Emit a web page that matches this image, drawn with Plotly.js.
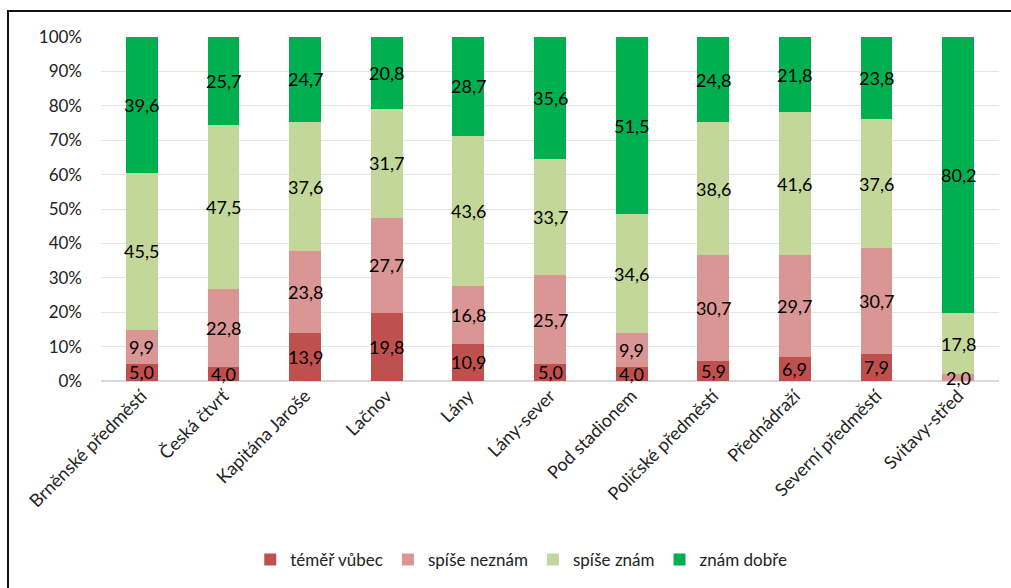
<!DOCTYPE html>
<html>
<head>
<meta charset="utf-8">
<script src="https://cdn.plot.ly/plotly-3.0.1.min.js"></script>
<style>html,body{margin:0;padding:0;background:#fff;}#chart{width:1011px;height:588px;}</style>
</head>
<body>
<div id="chart"></div>
<script>
const categories = ["Brněnské předměstí","Česká čtvrť","Kapitána Jaroše","Lačnov","Lány","Lány-sever","Pod stadionem","Poličské předměstí","Přednádraží","Severní předměstí","Svitavy-střed"];
const seriesNames = ["téměř vůbec","spíše neznám","spíše znám","znám dobře"];
const temerVubec   = [5.0, 4.0, 13.9, 19.8, 10.9, 5.0, 4.0, 5.9, 6.9, 7.9, 0];
const spiseNeznam  = [9.9, 22.8, 23.8, 27.7, 16.8, 25.7, 9.9, 30.7, 29.7, 30.7, 2.0];
const spiseZnam    = [45.5, 47.5, 37.6, 31.7, 43.6, 33.7, 34.6, 38.6, 41.6, 37.6, 17.8];
const znamDobre    = [39.6, 25.7, 24.7, 20.8, 28.7, 35.6, 51.5, 24.8, 21.8, 23.8, 80.2];
const colors = ["#C0504D","#DA9694","#C4D79B","#00B050"];

const fontFam = "Lato, 'Open Sans', sans-serif";
const allSeries = [temerVubec, spiseNeznam, spiseZnam, znamDobre];
const traces = allSeries.map((vals, i) => ({
  type: 'bar',
  name: seriesNames[i],
  x: categories,
  y: vals,
  marker: {color: colors[i]},
  hoverinfo: 'skip'
}));

// data labels centred in each stacked segment, derived from the data
const annotations = [];
const cum = categories.map(() => 0);
allSeries.forEach(vals => {
  vals.forEach((v, j) => {
    if (v > 0) {
      annotations.push({
        x: categories[j], y: cum[j] + v / 2, xref: 'x', yref: 'y',
        text: v.toFixed(1).replace('.', ','), showarrow: false,
        font: {size: 18, color: '#000', family: fontFam},
        xanchor: 'center', yanchor: 'middle'
      });
    }
    cum[j] += v;
  });
});

const layout = {
  width: 1011, height: 588,
  barmode: 'stack',
  bargap: 0.61,
  margin: {l: 101, r: 12, t: 37, b: 206},
  paper_bgcolor: '#fff', plot_bgcolor: '#fff',
  font: {family: fontFam, color: '#222', size: 17},
  xaxis: {
    type: 'category',
    tickangle: -45,
    tickfont: {size: 18, color: '#222'},
    showgrid: false, showline: false, ticks: '',
    automargin: false
  },
  yaxis: {
    range: [0, 100], dtick: 10, ticksuffix: '%',
    tickfont: {size: 17, color: '#222'},
    gridcolor: '#E6E6DC', gridwidth: 1,
    zeroline: true, zerolinecolor: '#D9D9D9', zerolinewidth: 1.5,
    showline: false, ticks: '', ticklabelstandoff: 18,
    automargin: false, fixedrange: true
  },
  legend: {
    orientation: 'h', x: 0.468, xanchor: 'center', y: -0.516, yanchor: 'middle',
    font: {size: 17, color: '#222'}, traceorder: 'normal',
    itemwidth: 30
  },
  annotations: annotations,
  shapes: [{
    type: 'rect', xref: 'paper', yref: 'paper',
    x0: (8 - 101) / 898, x1: 1.05,
    y0: -1, y1: (382 - 11) / 345,
    line: {color: '#111', width: 2}, fillcolor: 'rgba(0,0,0,0)', layer: 'below'
  }],
  showlegend: true
};

Plotly.newPlot('chart', traces, layout, {displayModeBar: false, staticPlot: true});
</script>
</body>
</html>
